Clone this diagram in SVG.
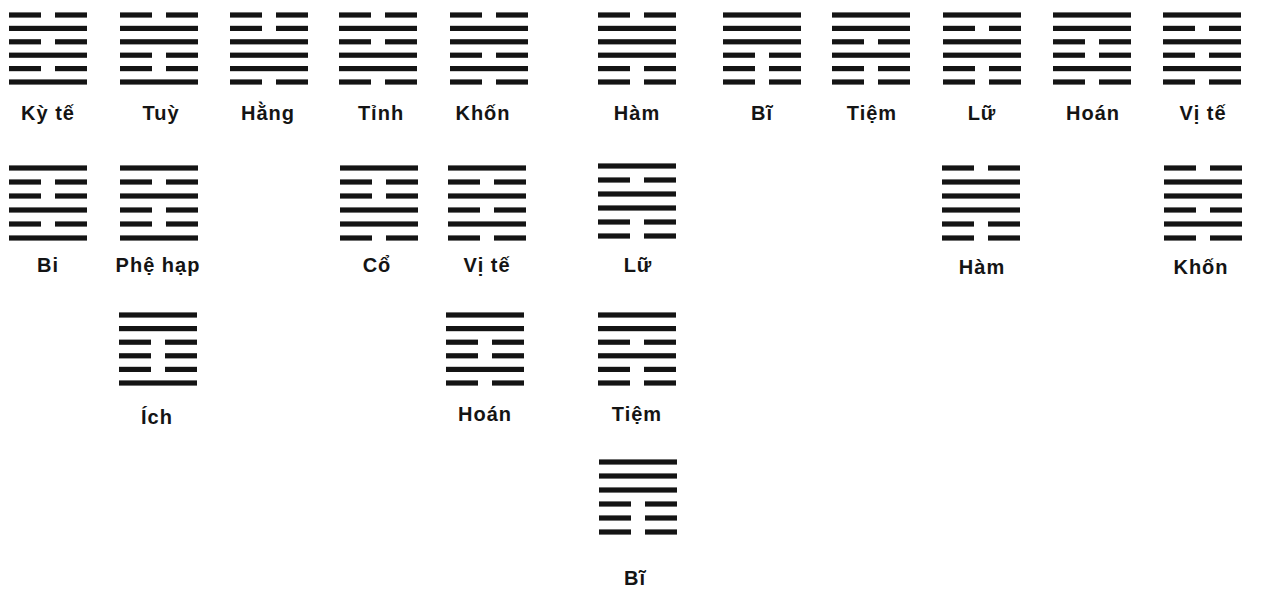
<svg xmlns="http://www.w3.org/2000/svg" xmlns:xlink="http://www.w3.org/1999/xlink" width="1265" height="600" viewBox="0 0 1265 600">
<style>
.lbl{font-family:"Liberation Sans",Arial,sans-serif;font-size:20px;font-weight:bold;text-anchor:middle;letter-spacing:1px;fill:#141414}
.ln{fill:#141414}
</style>
<defs>
<g id="Y"><rect class="ln" x="0" y="-2.6" width="78" height="5.2"/></g>
<g id="N"><rect class="ln" x="0" y="-2.6" width="32" height="5.2"/><rect class="ln" x="46" y="-2.6" width="32" height="5.2"/></g>
</defs>
<rect width="1265" height="600" fill="#ffffff"/>
<g id="connectors"/>

<!-- Row 1 -->
<g id="ky-te-1" transform="translate(9,15)">
<use href="#N" y="0"/><use href="#Y" y="13.4"/><use href="#N" y="26.8"/><use href="#Y" y="40.2"/><use href="#N" y="53.6"/><use href="#Y" y="67"/>
<text class="lbl" x="39" y="105">Kỳ tế</text></g>
<g id="tuy-1" transform="translate(120,15)">
<use href="#N" y="0"/><use href="#Y" y="13.4"/><use href="#Y" y="26.8"/><use href="#N" y="40.2"/><use href="#N" y="53.6"/><use href="#Y" y="67"/>
<text class="lbl" x="41" y="105">Tuỳ</text></g>
<g id="hang-1" transform="translate(230,15)">
<use href="#N" y="0"/><use href="#N" y="13.4"/><use href="#Y" y="26.8"/><use href="#Y" y="40.2"/><use href="#Y" y="53.6"/><use href="#N" y="67"/>
<text class="lbl" x="38" y="105">Hằng</text></g>
<g id="tinh-1" transform="translate(339,15)">
<use href="#N" y="0"/><use href="#Y" y="13.4"/><use href="#N" y="26.8"/><use href="#Y" y="40.2"/><use href="#Y" y="53.6"/><use href="#N" y="67"/>
<text class="lbl" x="42" y="105">Tỉnh</text></g>
<g id="khon-1" transform="translate(450,15)">
<use href="#N" y="0"/><use href="#Y" y="13.4"/><use href="#Y" y="26.8"/><use href="#N" y="40.2"/><use href="#Y" y="53.6"/><use href="#N" y="67"/>
<text class="lbl" x="33" y="105">Khốn</text></g>
<g id="ham-1" transform="translate(598,15)">
<use href="#N" y="0"/><use href="#Y" y="13.4"/><use href="#Y" y="26.8"/><use href="#Y" y="40.2"/><use href="#N" y="53.6"/><use href="#N" y="67"/>
<text class="lbl" x="39" y="105">Hàm</text></g>
<g id="bi-1" transform="translate(723,15)">
<use href="#Y" y="0"/><use href="#Y" y="13.4"/><use href="#Y" y="26.8"/><use href="#N" y="40.2"/><use href="#N" y="53.6"/><use href="#N" y="67"/>
<text class="lbl" x="39" y="105">Bĩ</text></g>
<g id="tiem-1" transform="translate(832,15)">
<use href="#Y" y="0"/><use href="#Y" y="13.4"/><use href="#N" y="26.8"/><use href="#Y" y="40.2"/><use href="#N" y="53.6"/><use href="#N" y="67"/>
<text class="lbl" x="40" y="105">Tiệm</text></g>
<g id="lu-1" transform="translate(943,15)">
<use href="#Y" y="0"/><use href="#N" y="13.4"/><use href="#Y" y="26.8"/><use href="#Y" y="40.2"/><use href="#N" y="53.6"/><use href="#N" y="67"/>
<text class="lbl" x="39" y="105">Lữ</text></g>
<g id="hoan-1" transform="translate(1053,15)">
<use href="#Y" y="0"/><use href="#Y" y="13.4"/><use href="#N" y="26.8"/><use href="#N" y="40.2"/><use href="#Y" y="53.6"/><use href="#N" y="67"/>
<text class="lbl" x="40" y="105">Hoán</text></g>
<g id="vi-te-1" transform="translate(1163,15)">
<use href="#Y" y="0"/><use href="#N" y="13.4"/><use href="#Y" y="26.8"/><use href="#N" y="40.2"/><use href="#Y" y="53.6"/><use href="#N" y="67"/>
<text class="lbl" x="40" y="105">Vị tế</text></g>

<!-- Row 2 -->
<g id="bi-2" transform="translate(9,168)">
<use href="#Y" y="0"/><use href="#N" y="14"/><use href="#N" y="28"/><use href="#Y" y="42"/><use href="#N" y="56"/><use href="#Y" y="70"/>
<text class="lbl" x="39" y="104">Bi</text></g>
<g id="phe-hap-2" transform="translate(120,168)">
<use href="#Y" y="0"/><use href="#N" y="14"/><use href="#Y" y="28"/><use href="#N" y="42"/><use href="#N" y="56"/><use href="#Y" y="70"/>
<text class="lbl" x="38" y="104">Phệ hạp</text></g>
<g id="co-2" transform="translate(340,168)">
<use href="#Y" y="0"/><use href="#N" y="14"/><use href="#N" y="28"/><use href="#Y" y="42"/><use href="#Y" y="56"/><use href="#N" y="70"/>
<text class="lbl" x="37" y="104">Cổ</text></g>
<g id="vi-te-2" transform="translate(448,168)">
<use href="#Y" y="0"/><use href="#N" y="14"/><use href="#Y" y="28"/><use href="#N" y="42"/><use href="#Y" y="56"/><use href="#N" y="70"/>
<text class="lbl" x="39" y="104">Vị tế</text></g>
<g id="lu-2" transform="translate(598,166)">
<use href="#Y" y="0"/><use href="#N" y="14"/><use href="#Y" y="28"/><use href="#Y" y="42"/><use href="#N" y="56"/><use href="#N" y="70"/>
<text class="lbl" x="40" y="106">Lữ</text></g>
<g id="ham-2" transform="translate(942,168)">
<use href="#N" y="0"/><use href="#Y" y="14"/><use href="#Y" y="28"/><use href="#Y" y="42"/><use href="#N" y="56"/><use href="#N" y="70"/>
<text class="lbl" x="40" y="106">Hàm</text></g>
<g id="khon-2" transform="translate(1164,168)">
<use href="#N" y="0"/><use href="#Y" y="14"/><use href="#Y" y="28"/><use href="#N" y="42"/><use href="#Y" y="56"/><use href="#N" y="70"/>
<text class="lbl" x="37" y="106">Khốn</text></g>

<!-- Row 3 -->
<g id="ich-3" transform="translate(119,315)">
<use href="#Y" y="0"/><use href="#Y" y="13.6"/><use href="#N" y="27.2"/><use href="#N" y="40.8"/><use href="#N" y="54.4"/><use href="#Y" y="68"/>
<text class="lbl" x="38" y="109">Ích</text></g>
<g id="hoan-3" transform="translate(446,315)">
<use href="#Y" y="0"/><use href="#Y" y="13.6"/><use href="#N" y="27.2"/><use href="#N" y="40.8"/><use href="#Y" y="54.4"/><use href="#N" y="68"/>
<text class="lbl" x="39" y="106">Hoán</text></g>
<g id="tiem-3" transform="translate(598,315)">
<use href="#Y" y="0"/><use href="#Y" y="13.6"/><use href="#N" y="27.2"/><use href="#Y" y="40.8"/><use href="#N" y="54.4"/><use href="#N" y="68"/>
<text class="lbl" x="39" y="106">Tiệm</text></g>

<!-- Row 4 -->
<g id="bi-4" transform="translate(599,462)">
<use href="#Y" y="0"/><use href="#Y" y="14"/><use href="#Y" y="28"/><use href="#N" y="42"/><use href="#N" y="56"/><use href="#N" y="70"/>
<text class="lbl" x="36" y="123">Bĩ</text></g>
</svg>
